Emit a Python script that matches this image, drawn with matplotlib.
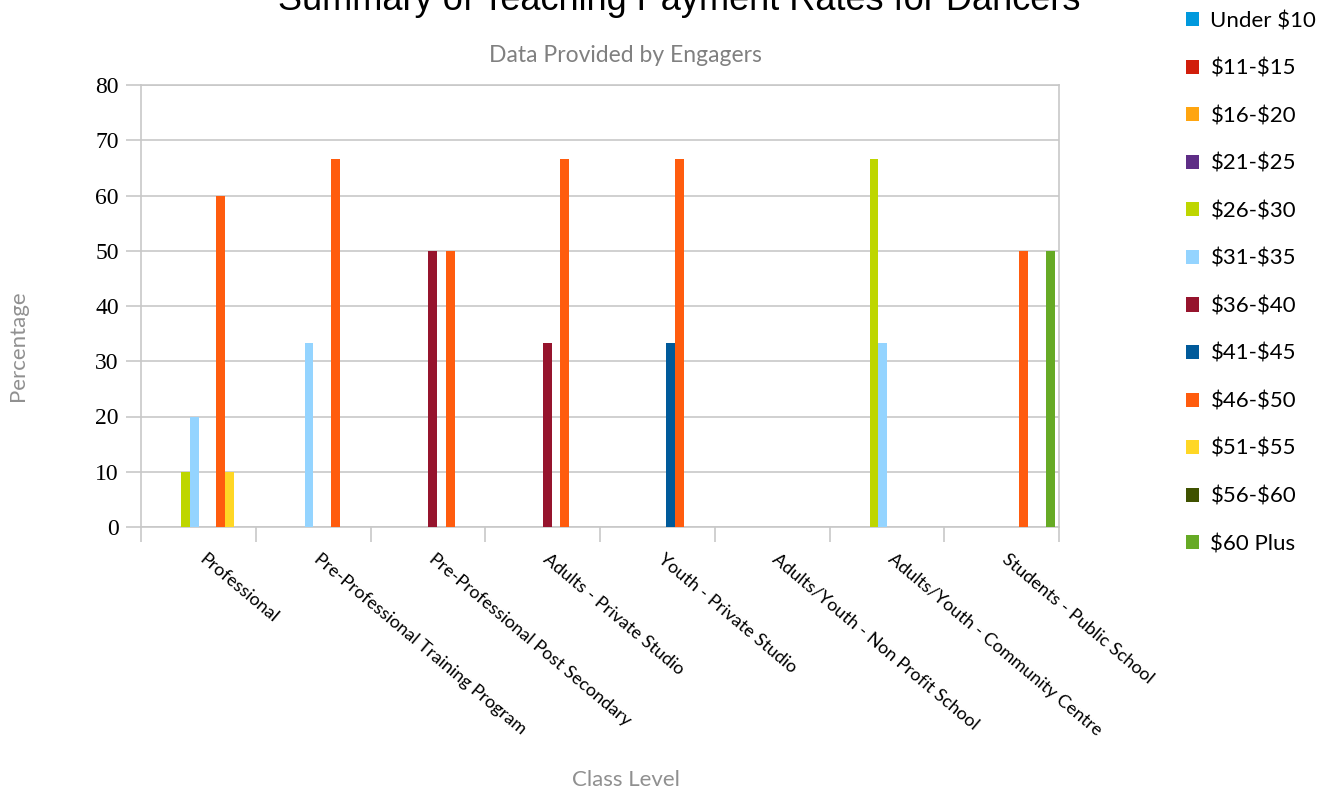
import numpy as np
import matplotlib
matplotlib.use('Agg')
import matplotlib.pyplot as plt
from matplotlib.patches import Patch

categories = ['Professional', 'Pre-Professional Training Program',
              'Pre-Professional Post Secondary', 'Adults - Private Studio',
              'Youth - Private Studio', 'Adults/Youth - Non Profit School',
              'Adults/Youth - Community Centre', 'Students - Public School']

series = ['Under $10', '$11-$15', '$16-$20', '$21-$25', '$26-$30', '$31-$35',
          '$36-$40', '$41-$45', '$46-$50', '$51-$55', '$56-$60', '$60 Plus']

colors = ['#0099dd', '#d11e0b', '#ffa510', '#5e2d86', '#bed600', '#94d4ff',
          '#96142d', '#005a9a', '#ff5c0e', '#ffd725', '#3f5200', '#66aa25']

# percentage per category, one list per series
values = {
    'Under $10': [0, 0, 0, 0, 0, 0, 0, 0],
    '$11-$15':   [0, 0, 0, 0, 0, 0, 0, 0],
    '$16-$20':   [0, 0, 0, 0, 0, 0, 0, 0],
    '$21-$25':   [0, 0, 0, 0, 0, 0, 0, 0],
    '$26-$30':   [10, 0, 0, 0, 0, 0, 66.67, 0],
    '$31-$35':   [20, 33.33, 0, 0, 0, 0, 33.33, 0],
    '$36-$40':   [0, 0, 50, 33.33, 0, 0, 0, 0],
    '$41-$45':   [0, 0, 0, 0, 33.33, 0, 0, 0],
    '$46-$50':   [60, 66.67, 50, 66.67, 66.67, 0, 0, 50],
    '$51-$55':   [10, 0, 0, 0, 0, 0, 0, 0],
    '$56-$60':   [0, 0, 0, 0, 0, 0, 0, 0],
    '$60 Plus':  [0, 0, 0, 0, 0, 0, 0, 50],
}

W, H = 1339, 796
fig = plt.figure(figsize=(W / 100, H / 100), dpi=100)
ax = fig.add_axes([141 / W, 1 - 527 / H, (1059 - 141) / W, (527 - 85) / H])

grid_c = '#c8c8c8'
bw = 0.0767
x = np.arange(len(categories))
for i, s in enumerate(series):
    off = -0.5 + 0.042 + i * bw
    ax.bar(x + off, values[s], width=bw, align='edge', color=colors[i],
           linewidth=0, zorder=3)

ax.set_xlim(-0.5, len(categories) - 0.5)
ax.set_ylim(0, 80)
ax.set_yticks(range(0, 81, 10))
ax.yaxis.grid(True, color=grid_c, linewidth=1.2, zorder=0)
ax.tick_params(axis='y', length=11, color=grid_c, width=1.2, pad=5,
               labelsize=17)
for t in ax.get_yticklabels():
    t.set_fontfamily('Liberation Serif')
ax.set_xticks(np.arange(len(categories) + 1) - 0.5)
ax.set_xticklabels([])
ax.tick_params(axis='x', length=11, color=grid_c, width=1.2)
for sp in ax.spines.values():
    sp.set_color(grid_c)
    sp.set_linewidth(1.2)

# rotated category labels
for i, c in enumerate(categories):
    ax.text(i + 0.07, -4.3, c, rotation=-40, rotation_mode='anchor',
            ha='left', va='top', fontsize=13, family='Lato',
            transform=ax.transData, clip_on=False)

# title sits partly above the top edge, as in the source image
fig.text(679 / W, 1 - 10 / H, 'Summary of Teaching Payment Rates for Dancers',
         ha='center', va='baseline', fontsize=26, family='Liberation Sans')
fig.text(625 / W, 1 - 55 / H, 'Data Provided by Engagers', ha='center',
         va='center', fontsize=16.5, color='#808080', family='Lato')
fig.text(18 / W, 1 - 346 / H, 'Percentage', rotation=90, ha='center',
         va='center', fontsize=16, color='#909090', family='Lato')
fig.text(626 / W, 1 - 780 / H, 'Class Level', ha='center', va='center',
         fontsize=16, color='#909090', family='Lato')

handles = [Patch(facecolor=colors[i], edgecolor='none') for i in range(len(series))]
shown = [s.replace('$', r'\$') for s in series]
fig.legend(handles, shown, loc='upper left',
           bbox_to_anchor=(1166 / W, 1 + 9 / H), frameon=False,
           labelspacing=1.24, handlelength=0.6,
           handleheight=0.6, handletextpad=0.5,
           prop={'family': 'Lato', 'size': 16})

fig.savefig('out.png', dpi=100)
